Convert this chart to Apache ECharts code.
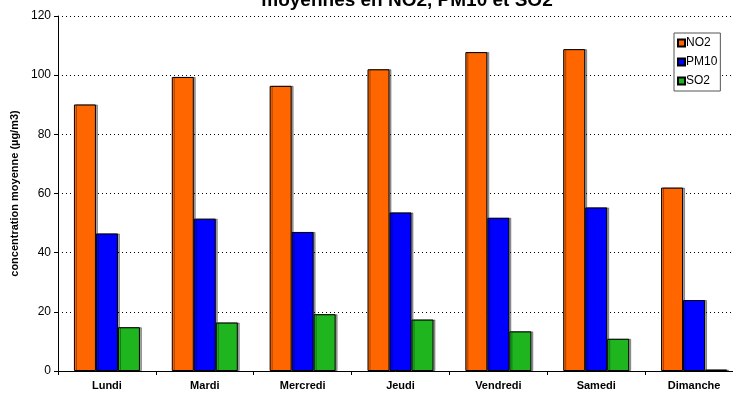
<!DOCTYPE html>
<html>
<head>
<meta charset="utf-8">
<script src="https://cdn.jsdelivr.net/npm/echarts@6/dist/echarts.min.js"></script>
<style>
  html, body { margin: 0; padding: 0; background: #fff; }
  #chart { width: 733px; height: 394px; }
</style>
</head>
<body>
<div id="chart"></div>
<script>
// Days of the week
const days = ['Lundi', 'Mardi', 'Mercredi', 'Jeudi', 'Vendredi', 'Samedi', 'Dimanche'];

// Mean concentrations per day (µg/m3)
const no2 = [90.1, 99.4, 96.4, 102.0, 107.8, 108.8, 62.0];
const pm10 = [46.5, 51.5, 47.0, 53.6, 51.8, 55.3, 24.0];
const so2 = [14.8, 16.4, 19.2, 17.4, 13.4, 10.9, 0.5];

// Value axis ticks
const yTicks = [0, 20, 40, 60, 80, 100, 120];

const font = 'Arial, "Liberation Sans", sans-serif';

const barStyle = (color) => ({
  color: color,
  borderColor: '#000',
  borderWidth: 1,
  shadowColor: 'rgba(0,0,0,0.35)',
  shadowOffsetX: 2,
  shadowOffsetY: 0,
  shadowBlur: 0
});

const chart = echarts.init(document.getElementById('chart'), null, { renderer: 'canvas' });

chart.setOption({
  animation: false,
  backgroundColor: '#fff',
  title: {
    text: 'moyennes en NO2, PM10 et SO2',
    left: 402,
    top: -14,
    textAlign: 'center',
    textStyle: { fontFamily: font, fontSize: 19, fontWeight: 'bold', color: '#000' }
  },
  legend: {
    data: ['NO2', 'PM10', 'SO2'],
    orient: 'vertical',
    left: 674,
    top: 33,
    itemWidth: 7,
    itemHeight: 7,
    itemGap: 7,
    padding: [4, 3, 4, 3],
    borderColor: '#555',
    borderWidth: 1,
    backgroundColor: '#fff',
    icon: 'rect',
    textStyle: { fontFamily: font, fontSize: 12, color: '#000', padding: [0, 0, 0, -4] }
  },
  grid: { left: 58, right: -10, top: 16, bottom: 23, containLabel: false, outerBoundsMode: 'none' },
  xAxis: {
    type: 'category',
    data: days,
    boundaryGap: true,
    axisLine: { lineStyle: { color: '#000', width: 1 } },
    axisTick: { show: true, length: 4, lineStyle: { color: '#000' } },
    axisLabel: { fontFamily: font, fontSize: 11, fontWeight: 'bold', color: '#000', margin: 9 },
    splitLine: { show: false }
  },
  yAxis: {
    type: 'value',
    min: yTicks[0],
    max: yTicks[yTicks.length - 1],
    interval: 20,
    name: 'concentration moyenne (µg/m3)',
    nameLocation: 'middle',
    nameGap: 37,
    nameRotate: 90,
    nameTextStyle: { fontFamily: font, fontSize: 11, fontWeight: 'bold', color: '#000' },
    axisLine: { show: true, lineStyle: { color: '#000', width: 1 } },
    axisTick: { show: true, inside: false, length: 4, lineStyle: { color: '#000' } },
    axisLabel: { fontFamily: font, fontSize: 12, color: '#000', margin: 7 },
    splitLine: { show: true, lineStyle: { color: '#000', type: [1, 3], width: 1 } }
  },
  series: [
    { name: 'NO2', type: 'bar', data: no2, barWidth: 22, barGap: '0%', barCategoryGap: '33%', itemStyle: barStyle('#FF6600') },
    { name: 'PM10', type: 'bar', data: pm10, barWidth: 22, barGap: '0%', itemStyle: barStyle('#0000FF') },
    { name: 'SO2', type: 'bar', data: so2, barWidth: 22, barGap: '0%', itemStyle: barStyle('#1FB51F') }
  ]
});
</script>
</body>
</html>
